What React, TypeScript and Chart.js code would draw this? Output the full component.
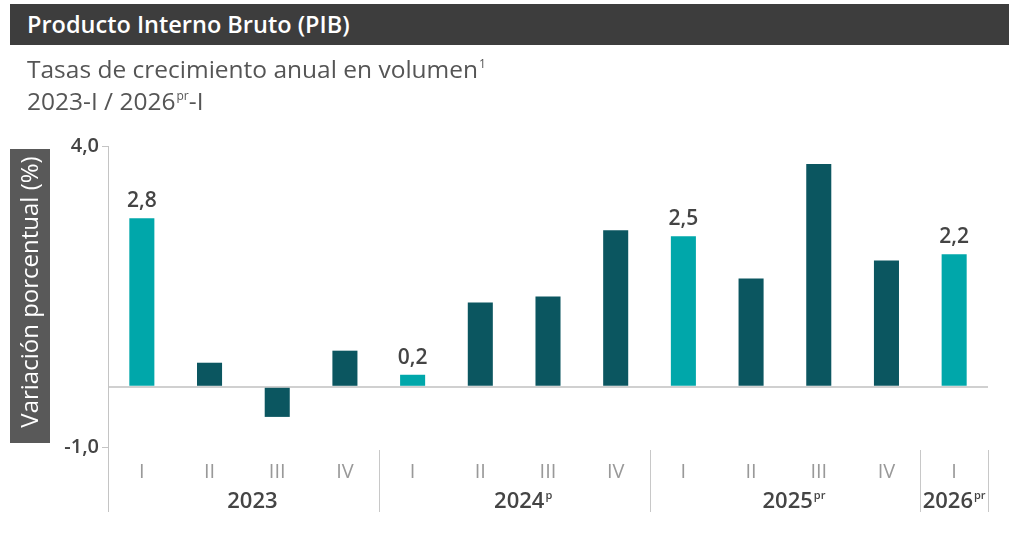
import React, { useEffect, useRef } from 'react';
import { Chart, registerables } from 'chart.js';

Chart.register(...registerables);

const quarters = ['I', 'II', 'III', 'IV', 'I', 'II', 'III', 'IV', 'I', 'II', 'III', 'IV', 'I'];
const growth = [2.8, 0.4, -0.5, 0.6, 0.2, 1.4, 1.5, 2.6, 2.5, 1.8, 3.7, 2.1, 2.2];
const years = ['2023', '2024', '2025', '2026'];
const yearMarks = ['', 'p', 'pr', 'pr'];
const yearQuarterCounts = [4, 4, 4, 1];
const yTickValues = [-1, 0, 4];
const yMin = -1;
const yMax = 4;

const FONT = "'Open Sans', 'Noto Sans', sans-serif";
const LIGHT = '#00a7aa';
const DARK = '#0b5660';

const fmt = (v: number) => v.toFixed(1).replace('.', ',');

const overlay = {
  id: 'overlay',
  afterDraw(chart: any) {
    const { ctx, chartArea, scales } = chart;
    const x = scales.x;
    const n = quarters.length;
    const step = (chartArea.right - chartArea.left) / n;
    ctx.save();
    // y-axis title box
    ctx.fillStyle = '#595959';
    ctx.fillRect(10, 149, 40, 294);
    ctx.save();
    ctx.translate(31, 292);
    ctx.rotate(-Math.PI / 2);
    ctx.fillStyle = '#ffffff';
    ctx.font = `24px ${FONT}`;
    ctx.textAlign = 'center';
    ctx.textBaseline = 'middle';
    ctx.fillText('Variación porcentual (%)', 0, 0);
    ctx.restore();

    // axis extension below chart area
    ctx.strokeStyle = '#c4c4c4';
    ctx.lineWidth = 1;
    ctx.beginPath();
    ctx.moveTo(chartArea.left + 0.5, chartArea.bottom);
    ctx.lineTo(chartArea.left + 0.5, 512);
    ctx.stroke();

    // year separators and labels
    let idx = 0;
    years.forEach((yr, g) => {
      const cnt = yearQuarterCounts[g];
      const startPx = x.getPixelForValue(idx) - step / 2;
      const endPx = x.getPixelForValue(idx + cnt - 1) + step / 2;
      ctx.strokeStyle = '#c8c8c8';
      ctx.beginPath();
      ctx.moveTo(Math.round(endPx) + 0.5, 450);
      ctx.lineTo(Math.round(endPx) + 0.5, 512);
      ctx.stroke();
      const mainFont = `600 22px ${FONT}`;
      const supFont = `600 11px ${FONT}`;
      ctx.font = mainFont;
      const w1 = ctx.measureText(yr).width;
      ctx.font = supFont;
      const w2 = yearMarks[g] ? ctx.measureText(yearMarks[g]).width + 1 : 0;
      const total = w1 + w2;
      const cx = (startPx + endPx) / 2;
      let left = cx - total / 2 + 9;
      if (left + total > endPx - 1) left = cx - total / 2;
      ctx.fillStyle = '#444444';
      ctx.textAlign = 'left';
      ctx.textBaseline = 'alphabetic';
      ctx.font = mainFont;
      ctx.fillText(yr, left, 508);
      if (yearMarks[g]) {
        ctx.font = supFont;
        ctx.fillText(yearMarks[g], left + w1 + 1, 499);
      }
      idx += cnt;
    });

    // value labels on highlighted bars
    const meta = chart.getDatasetMeta(0);
    ctx.font = `600 21px ${FONT}`;
    ctx.fillStyle = '#444444';
    ctx.textAlign = 'center';
    ctx.textBaseline = 'alphabetic';
    quarters.forEach((q, i) => {
      if (q !== 'I') return;
      const bar = meta.data[i];
      ctx.fillText(fmt(growth[i]), bar.x, Math.min(bar.y, bar.base) - 11);
    });
    ctx.restore();
  },
};

export default function App() {
  const ref = useRef<HTMLCanvasElement | null>(null);
  useEffect(() => {
    const canvas = ref.current;
    if (!canvas) return;
    const chart = new Chart(canvas, {
      type: 'bar',
      data: {
        labels: quarters,
        datasets: [
          {
            data: growth,
            backgroundColor: quarters.map((q) => (q === 'I' ? LIGHT : DARK)),
            barPercentage: 0.37,
            categoryPercentage: 1,
          },
        ],
      },
      options: {
        responsive: false,
        animation: false,
        devicePixelRatio: 1,
        layout: { padding: { top: 146, right: 21, left: 0, bottom: 0 } },
        plugins: { legend: { display: false }, tooltip: { enabled: false }, title: { display: false } },
        scales: {
          x: {
            grid: { display: false },
            border: { display: false },
            ticks: { color: '#999999', font: { family: FONT, size: 20 }, padding: 5, maxRotation: 0, autoSkip: false },
            afterFit: (s: any) => {
              s.height = 108;
            },
          },
          y: {
            min: yMin,
            max: yMax,
            afterBuildTicks: (s: any) => {
              s.ticks = yTickValues.map((v) => ({ value: v }));
            },
            afterFit: (s: any) => {
              s.width = 108;
            },
            border: { display: true, color: '#c4c4c4' },
            grid: {
              drawOnChartArea: true,
              color: (c: any) => (c.tick && c.tick.value === 0 ? '#d0d0d0' : 'rgba(0,0,0,0)'),
              lineWidth: (c: any) => (c.tick && c.tick.value === 0 ? 2 : 1),
              tickColor: (c: any) => (c.tick && c.tick.value === 0 ? 'rgba(0,0,0,0)' : '#c4c4c4'),
              tickLength: 6,
            },
            ticks: {
              color: '#444444',
              font: { family: FONT, size: 20, weight: '600' },
              padding: 3,
              callback: (v: any) => (Number(v) === 0 ? '' : fmt(Number(v))),
            },
          },
        },
      },
      plugins: [overlay],
    });
    return () => chart.destroy();
  }, []);

  const supStyle: React.CSSProperties = { fontSize: 12, verticalAlign: 'baseline', position: 'relative', top: -10, marginLeft: 1 };

  return (
    <div style={{ position: 'absolute', left: 0, top: 0, width: 1009, height: 555, background: '#ffffff', fontFamily: FONT, overflow: 'hidden' }}>
      <canvas ref={ref} width={1009} height={555} style={{ position: 'absolute', left: 0, top: 0, width: 1009, height: 555 }} />
      <div style={{ position: 'absolute', left: 10, top: 4, width: 999, height: 41, background: '#3d3d3d', color: '#ffffff', fontSize: 23.5, fontWeight: 600, lineHeight: '41px', paddingLeft: 17, boxSizing: 'border-box', whiteSpace: 'nowrap' }}>
        Producto Interno Bruto (PIB)
      </div>
      <div style={{ position: 'absolute', left: 27, top: 55, color: '#555555', fontSize: 24.5, lineHeight: '27px', whiteSpace: 'nowrap' }}>
        <div>
          Tasas de crecimiento anual en volumen<span style={supStyle}>1</span>
        </div>
        <div>
          2023-I / 2026<span style={supStyle}>pr</span>-I
        </div>
      </div>
    </div>
  );
}
